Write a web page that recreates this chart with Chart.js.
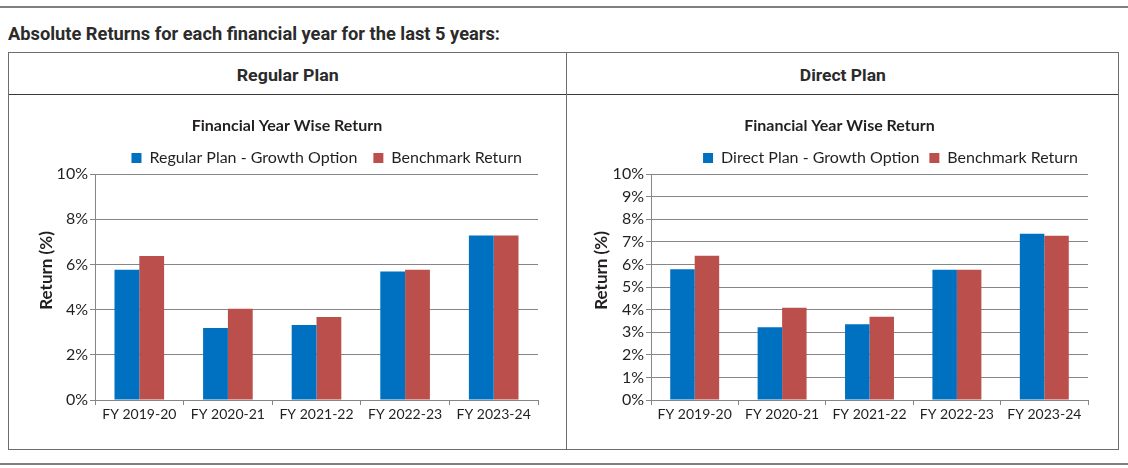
<!DOCTYPE html>
<html>
<head>
<meta charset="utf-8">
<script src="https://cdn.jsdelivr.net/npm/chart.js@4.4.0/dist/chart.umd.min.js"></script>
<style>
  body { margin: 0; width: 1128px; height: 468px; background: #fff; position: relative; overflow: hidden; }
  .rule { position: absolute; left: 0; width: 1128px; height: 2px; background: #7f7f7f; }
  #heading { position: absolute; left: 8px; top: 25px; font: bold 18px Roboto, sans-serif; line-height: 18px; color: #2b2b2b; white-space: nowrap; transform-origin: left center; }
  #table { position: absolute; left: 8px; top: 52px; width: 1109px; height: 396px; border: 1px solid #6d6d6d; }
  .hdr { position: absolute; top: 0; height: 41px; border-bottom: 1px solid #3a3a3a; text-align: center; }
  .hdr span { display: inline-block; position: relative; top: 2px; font: bold 17px Roboto, sans-serif; line-height: 41px; color: #2b2b2b; white-space: nowrap; }
  #divider { position: absolute; left: 557px; top: 0; width: 1px; height: 100%; background: #6d6d6d; }
  .box { position: absolute; top: 95px; height: 354px; }
</style>
</head>
<body>
<div class="rule" style="top:6px"></div>
<div id="heading" data-w="492">Absolute Returns for each financial year for the last 5 years:</div>
<div id="table">
  <div class="hdr" style="left:0;width:557px"><span data-w="102">Regular Plan</span></div>
  <div class="hdr" style="left:558px;width:551px"><span data-w="86">Direct Plan</span></div>
  <div id="divider"></div>
</div>
<div class="box" style="left:9px;width:556px"><canvas id="chartRegular" width="556" height="354"></canvas></div>
<div class="box" style="left:567px;width:551px"><canvas id="chartDirect" width="551" height="354"></canvas></div>
<div class="rule" style="top:463px"></div>
<script>
const years = ['FY 2019-20', 'FY 2020-21', 'FY 2021-22', 'FY 2022-23', 'FY 2023-24'];
const regularGrowth = [5.76, 3.19, 3.32, 5.69, 7.28];
const regularBenchmark = [6.37, 4.04, 3.67, 5.76, 7.28];
const directGrowth = [5.79, 3.22, 3.35, 5.76, 7.36];
const directBenchmark = [6.38, 4.08, 3.68, 5.76, 7.27];

const BLUE = '#0070c0';
const RED = '#bb4f4b';
const GRID = '#868686';
const TEXT = '#231f20';
const FONT = 'Lato, sans-serif';

// squeeze the headings to the condensed width of the original
document.querySelectorAll('[data-w]').forEach(el => {
  const w = el.getBoundingClientRect().width;
  el.style.transform = `scaleX(${el.dataset.w / w})`;
});

function buildChart(id, cfg) {
  return new Chart(document.getElementById(id), {
    type: 'bar',
    data: {
      labels: years,
      datasets: [
        { label: cfg.planLabel, data: cfg.plan, backgroundColor: BLUE },
        { label: 'Benchmark Return', data: cfg.bench, backgroundColor: RED }
      ]
    },
    options: {
      responsive: false,
      animation: false,
      layout: { padding: { left: cfg.padLeft, right: cfg.padRight, top: 0, bottom: 9 } },
      datasets: { bar: { categoryPercentage: 0.56, barPercentage: 1 } },
      plugins: {
        title: {
          display: true,
          text: 'Financial Year Wise Return',
          color: TEXT,
          font: { family: FONT, size: 16, weight: 'bold' },
          padding: { top: 21.4, bottom: 14.4 - cfg.legendPad }
        },
        legend: {
          fullSize: false,
          align: 'end',
          maxHeight: 24 + cfg.legendPad,
          labels: {
            boxWidth: 10,
            boxHeight: 10,
            padding: cfg.legendPad,
            color: TEXT,
            font: { family: FONT, size: 16 }
          }
        },
        tooltip: { enabled: false }
      },
      scales: {
        x: {
          grid: { display: true, drawOnChartArea: false, tickLength: 5, color: GRID },
          border: { color: GRID },
          ticks: { padding: 1, color: TEXT, font: { family: FONT, size: 14 } },
          afterFit(s) { s.height = 40; }
        },
        y: {
          min: 0,
          max: 10,
          ticks: { stepSize: cfg.step, padding: 2, color: TEXT, font: { family: FONT, size: 16 }, callback: v => v + '%' },
          grid: { color: GRID, tickLength: 5 },
          border: { color: GRID },
          title: {
            display: true,
            text: ' '.repeat(8) + 'Return (%)',
            color: TEXT,
            font: { family: FONT, size: 17, weight: 'bold' },
            padding: 0
          },
          afterFit(s) { s.width = cfg.axisWidth; }
        }
      }
    }
  });
}

buildChart('chartRegular', {
  planLabel: 'Regular Plan - Growth Option',
  plan: regularGrowth,
  bench: regularBenchmark,
  step: 2,
  padLeft: 27,
  padRight: 27,
  axisWidth: 59,
  legendPad: 16
});

buildChart('chartDirect', {
  planLabel: 'Direct Plan - Growth Option',
  plan: directGrowth,
  bench: directBenchmark,
  step: 1,
  padLeft: 24,
  padRight: 30,
  axisWidth: 60,
  legendPad: 10
});
</script>
</body>
</html>
